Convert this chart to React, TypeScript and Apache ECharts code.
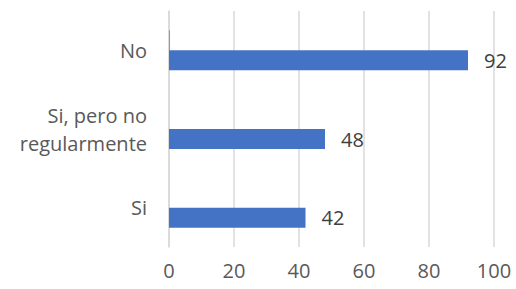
import React, { useEffect, useRef } from "react";
import * as echarts from "echarts";

const categories = ["Si", "Si, pero no\nregularmente", "No"];
const mainValues = [42, 48, 92];
const secondValues = [0, 0, 0.3];
const xTicks = { min: 0, max: 100, interval: 20 };

export default function App() {
  const ref = useRef<HTMLDivElement>(null);
  useEffect(() => {
    const chart = echarts.init(ref.current!, undefined, { renderer: "svg" });
    const font = "Open Sans";
    chart.setOption({
      animation: false,
      grid: { left: 169, right: 22, top: 11, bottom: 42, containLabel: false },
      xAxis: {
        type: "value",
        min: xTicks.min,
        max: xTicks.max,
        interval: xTicks.interval,
        axisLine: { show: false },
        axisTick: { show: false },
        splitLine: { lineStyle: { color: "#d9d9d9", width: 1.5 } },
        axisLabel: { color: "#595959", fontSize: 20, fontFamily: font, margin: 13 },
      },
      yAxis: {
        type: "category",
        data: categories,
        axisLine: { show: true, lineStyle: { color: "#d9d9d9", width: 1.5 } },
        axisTick: { show: false },
        axisLabel: {
          color: "#595959",
          fontSize: 20,
          fontFamily: font,
          margin: 22,
          align: "right",
          lineHeight: 28,
        },
      },
      series: [
        {
          type: "bar",
          data: secondValues,
          barWidth: 20,
          barGap: "0%",
          itemStyle: { color: "#ED7D31" },
        },
        {
          type: "bar",
          data: mainValues,
          barWidth: 20,
          barGap: "0%",
          itemStyle: { color: "#4472C4" },
          label: {
            show: true,
            position: "right",
            distance: 16,
            color: "#404040",
            fontSize: 20,
            fontFamily: font,
          },
        },
      ],
    });
    return () => chart.dispose();
  }, []);
  return (
    <div
      ref={ref}
      style={{ position: "fixed", left: 0, top: 0, width: 516, height: 289, background: "#fff" }}
    />
  );
}
